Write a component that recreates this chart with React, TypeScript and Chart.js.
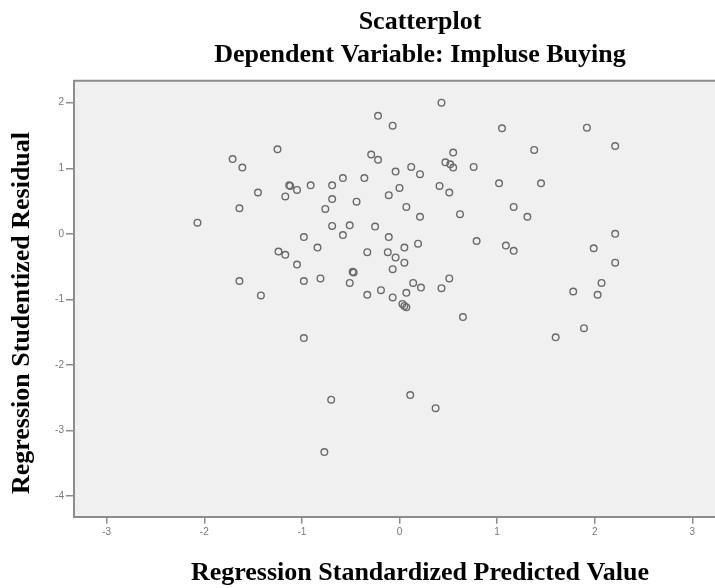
import { useEffect, useRef } from "react";
import { Chart, registerables } from "chart.js";

Chart.register(...registerables);

// Regression Standardized Predicted Value (x) and Studentized Residual (y)
const predicted = [
  -1.71, -1.61, -1.25, -1.45, -1.64, -2.07,
  0.43, -0.22, -0.07, -0.29, -0.22, 0.55, 0.47, 0.52, 0.55, 0.76,
  0.12, 0.21, -0.04, -0.36, -0.58, -0.69, -0.91, -1.13, -1.12, -1.05,
  -1.17, -0.69, -0.76, -0.44, -0.11, 0.0, 0.41, 0.51, 0.07, 0.21,
  0.62, -0.69, -0.51, -0.25,
  1.05, 1.92, 1.38, 2.21, 1.02, 1.45, 1.17, 1.31, 2.21,
  -1.24, -1.64, -1.42,
  -0.98, -0.58, -0.84, -0.11, 0.05, 0.19, -0.33, -0.12, -0.04, 0.05,
  -1.17, -1.05, -0.48, -0.47, -0.07, -0.98, -0.81, -0.51, -0.33, -0.19,
  -0.07, 0.03, 0.07, 0.05, 0.07, 0.14, 0.22, 0.43, 0.51, 0.79,
  0.65, -0.98,
  1.09, 1.17, 1.99, 2.21, 2.07, 1.78, 2.03, 1.89, 1.6,
  -0.7, 0.11, 0.37, -0.77,
];

const residual = [
  1.14, 1.01, 1.29, 0.63, 0.39, 0.17,
  2.0, 1.8, 1.65, 1.21, 1.13, 1.24, 1.09, 1.06, 1.01, 1.02,
  1.02, 0.91, 0.95, 0.85, 0.85, 0.74, 0.74, 0.74, 0.73, 0.67,
  0.57, 0.53, 0.38, 0.49, 0.59, 0.7, 0.73, 0.63, 0.41, 0.26,
  0.3, 0.12, 0.13, 0.11,
  1.61, 1.62, 1.28, 1.34, 0.77, 0.77, 0.41, 0.26, 0.0,
  -0.27, -0.72, -0.94,
  -0.05, -0.02, -0.21, -0.05, -0.21, -0.15, -0.28, -0.28, -0.36, -0.44,
  -0.32, -0.47, -0.58, -0.59, -0.54, -0.72, -0.68, -0.75, -0.93, -0.86,
  -0.97, -1.07, -1.12, -1.1, -0.9, -0.75, -0.82, -0.83, -0.68, -0.11,
  -1.27, -1.59,
  -0.18, -0.26, -0.22, -0.44, -0.75, -0.88, -0.93, -1.44, -1.58,
  -2.53, -2.46, -2.66, -3.33,
];

const xTicks = [-3, -2, -1, 0, 1, 2, 3];
const yTicks = [-4, -3, -2, -1, 0, 1, 2];

const titleLines = ["Scatterplot", "Dependent Variable: Impluse Buying"];
const xTitle = "Regression Standardized Predicted Value";
const yTitle = "Regression Studentized Residual";

const AXIS_GREY = "#8c8c8c";
const TITLE_FONT = 'bold 26px "Liberation Serif", "Times New Roman", serif';

export default function App() {
  const ref = useRef<HTMLCanvasElement>(null);

  useEffect(() => {
    const canvas = ref.current;
    if (!canvas) return;

    const framePlugin = {
      id: "spssFrame",
      beforeDraw(chart: any) {
        const { ctx, chartArea: a } = chart;
        ctx.save();
        ctx.fillStyle = "#f0f0f0";
        ctx.fillRect(a.left, a.top, a.right - a.left, a.bottom - a.top);
        ctx.restore();
      },
      afterDraw(chart: any) {
        const { ctx, chartArea: a } = chart;
        ctx.save();
        ctx.strokeStyle = AXIS_GREY;
        ctx.lineWidth = 2;
        ctx.beginPath();
        ctx.moveTo(a.left - 1, a.top);
        ctx.lineTo(a.right, a.top);
        ctx.stroke();

        ctx.fillStyle = "#000";
        ctx.font = TITLE_FONT;
        ctx.textAlign = "center";
        ctx.textBaseline = "alphabetic";
        ctx.fillText(titleLines[0], 420, 29);
        ctx.fillText(titleLines[1], 420, 62);
        ctx.fillText(xTitle, 420, 580);
        ctx.translate(29, 313);
        ctx.rotate(-Math.PI / 2);
        ctx.fillText(yTitle, 0, 0);
        ctx.restore();
      },
    };

    const points = predicted.map((x, i) => ({ x, y: residual[i] }));

    const tickFont = { family: '"Liberation Sans", Arial, sans-serif', size: 10 };

    const chart = new Chart(canvas, {
      type: "scatter",
      data: {
        datasets: [
          {
            data: points,
            pointStyle: "circle",
            pointRadius: 3.3,
            pointHoverRadius: 3.3,
            borderWidth: 1.4,
            borderColor: "#6a6a6a",
            backgroundColor: "rgba(0,0,0,0)",
          },
        ],
      },
      options: {
        responsive: false,
        animation: false,
        devicePixelRatio: 1,
        events: [],
        layout: { padding: { top: 80.7, left: 0, right: 15, bottom: 53.3 } },
        plugins: {
          legend: { display: false },
          tooltip: { enabled: false },
          title: { display: false },
        },
        scales: {
          x: {
            type: "linear",
            min: -3.335,
            max: 3.335,
            afterBuildTicks: (scale: any) => {
              scale.ticks = xTicks.map((v) => ({ value: v }));
            },
            afterFit: (scale: any) => {
              scale.height = 30;
            },
            ticks: {
              color: "#777",
              font: tickFont,
              padding: 3,
              maxRotation: 0,
              autoSkip: false,
            },
            grid: {
              display: true,
              drawOnChartArea: false,
              drawTicks: true,
              tickLength: 7,
              tickColor: AXIS_GREY,
              lineWidth: 1.5,
            },
            border: { display: true, color: AXIS_GREY, width: 2 },
          },
          y: {
            type: "linear",
            min: -4.316,
            max: 2.336,
            afterBuildTicks: (scale: any) => {
              scale.ticks = yTicks.map((v) => ({ value: v }));
            },
            afterFit: (scale: any) => {
              scale.width = 74;
            },
            ticks: {
              color: "#777",
              font: tickFont,
              padding: 2,
              autoSkip: false,
            },
            grid: {
              display: true,
              drawOnChartArea: false,
              drawTicks: true,
              tickLength: 8,
              tickColor: AXIS_GREY,
              lineWidth: 1.5,
            },
            border: { display: true, color: AXIS_GREY, width: 2 },
          },
        },
      },
      plugins: [framePlugin],
    } as any);

    return () => chart.destroy();
  }, []);

  return (
    <div
      style={{
        position: "absolute",
        left: 0,
        top: 0,
        width: 715,
        height: 588,
        overflow: "hidden",
        background: "#fff",
      }}
    >
      <canvas
        ref={ref}
        width={740}
        height={600}
        style={{ display: "block", width: 740, height: 600 }}
      />
    </div>
  );
}
